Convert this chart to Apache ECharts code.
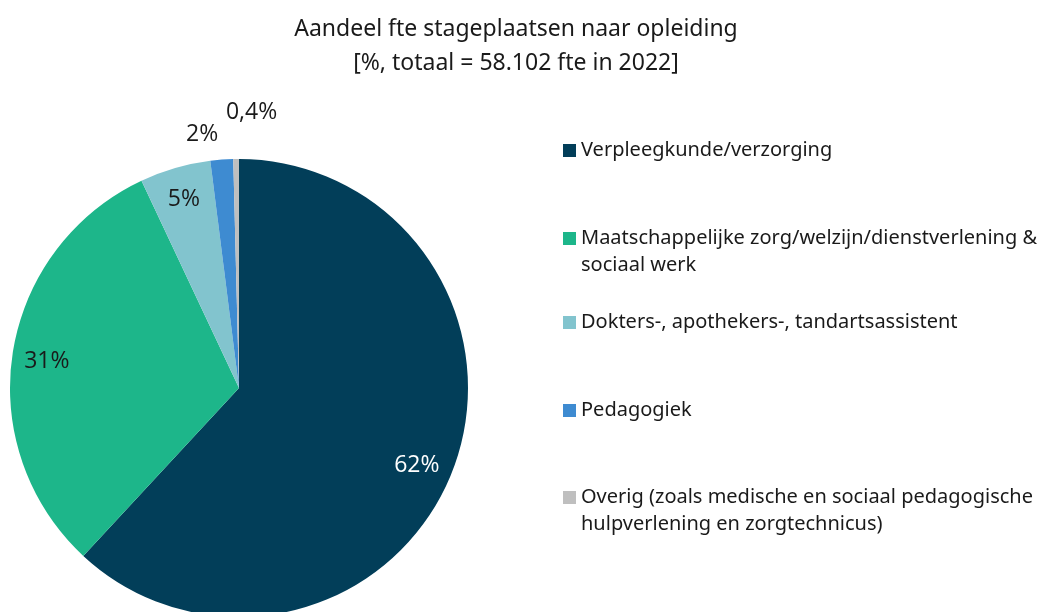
<!DOCTYPE html>
<html>
<head>
<meta charset="utf-8">
<script src="https://cdn.jsdelivr.net/npm/echarts@6/dist/echarts.min.js"></script>
<style>html,body{margin:0;padding:0;background:#fff}#c{width:1045px;height:612px}</style>
</head>
<body>
<div id="c"></div>
<script>
const categories = [
  'Verpleegkunde/verzorging',
  'Maatschappelijke zorg/welzijn/dienstverlening & sociaal werk',
  'Dokters-, apothekers-, tandartsassistent',
  'Pedagogiek',
  'Overig (zoals medische en sociaal pedagogische hulpverlening en zorgtechnicus)'
];
const legendLines = [
  ['Verpleegkunde/verzorging'],
  ['Maatschappelijke zorg/welzijn/dienstverlening &', 'sociaal werk'],
  ['Dokters-, apothekers-, tandartsassistent'],
  ['Pedagogiek'],
  ['Overig (zoals medische en sociaal pedagogische', 'hulpverlening en zorgtechnicus)']
];
const values = [61.9, 31.1, 5.0, 1.6, 0.4];
const valueLabels = ['62%', '31%', '5%', '2%', '0,4%'];
const colors = ['#023E59', '#1DB68A', '#82C4CE', '#3E8BD1', '#BFBFBF'];

const FONT = 'Noto Sans';
const labelStyles = [
  { color: '#ffffff', offset: [-6, 5] },
  { color: '#1a1a1a', offset: [3, 4] },
  { color: '#1a1a1a', offset: [0, 1] },
  { color: '#1a1a1a', offset: [-22, -57] },
  { color: '#1a1a1a', offset: [15, -78] }
];
const legendTops = [132, 193, 304, 392, 452];

const chart = echarts.init(document.getElementById('c'), null, { renderer: 'canvas' });
const pieData = categories.map((n, i) => ({ name: n, value: values[i], itemStyle: { color: colors[i] } }));
const labelData = categories.map((n, i) => ({
  name: n, value: values[i],
  label: Object.assign({ show: true, position: 'inside', formatter: valueLabels[i] }, labelStyles[i])
}));

chart.setOption({
  animation: false,
  title: {
    text: 'Aandeel fte stageplaatsen naar opleiding\n[%, totaal = 58.102 fte in 2022]',
    left: 511, top: 7, textAlign: 'center',
    textStyle: { fontFamily: FONT, fontSize: 23, fontWeight: 'normal', color: '#1a1a1a', lineHeight: 34 }
  },
  legend: categories.map((n, i) => ({
    data: [n],
    left: 558, top: legendTops[i],
    orient: 'vertical',
    icon: 'rect', itemWidth: 13, itemHeight: 13, itemGap: 6,
    selectedMode: false,
    formatter: () => legendLines[i].length > 1 ? '\n' + legendLines[i].join('\n') : legendLines[i][0],
    textStyle: { fontFamily: FONT, fontSize: 20, color: '#1a1a1a', lineHeight: 27 }
  })),
  series: [
    {
      type: 'pie', center: [239, 388], radius: [0, 229],
      startAngle: 90, clockwise: true, silent: true,
      label: { show: false }, labelLine: { show: false },
      itemStyle: { borderWidth: 0 },
      data: pieData
    },
    {
      type: 'pie', center: [239, 388], radius: [160, 229],
      startAngle: 90, clockwise: true, silent: true,
      legendHoverLink: false,
      itemStyle: { color: 'rgba(0,0,0,0)', borderWidth: 0 },
      label: { fontFamily: 'Open Sans', fontSize: 23, rotate: 0 },
      labelLine: { show: false },
      data: labelData
    }
  ]
});
</script>
</body>
</html>
